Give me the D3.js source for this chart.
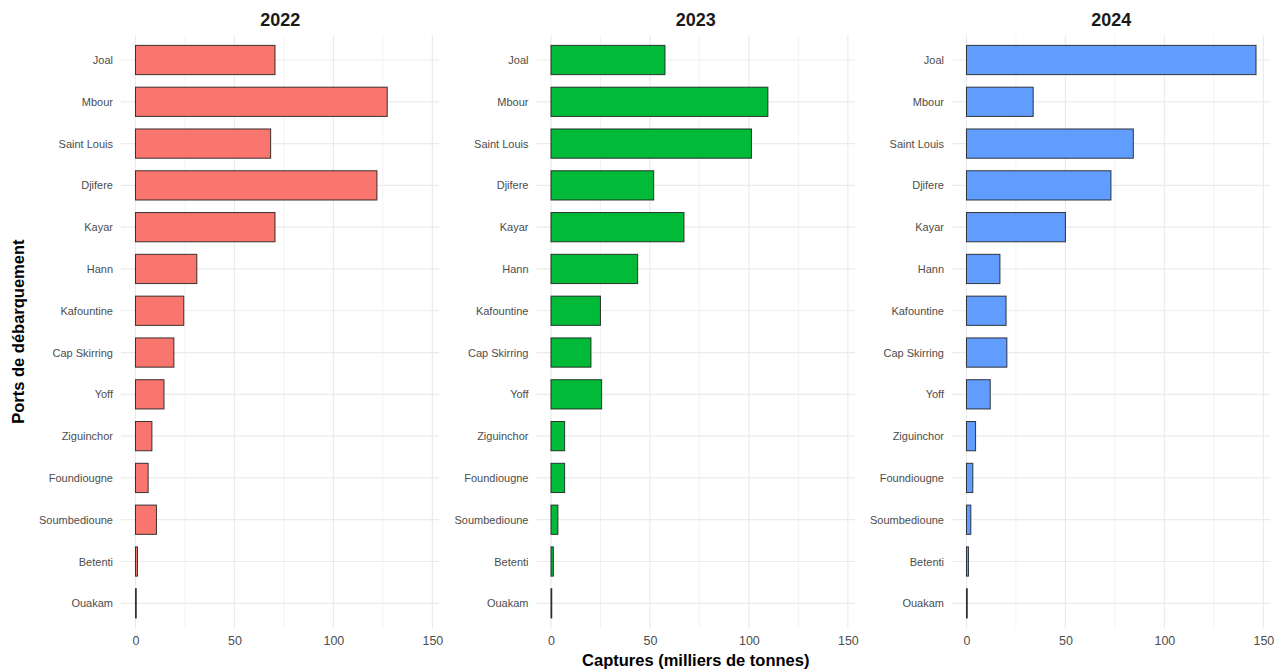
<!DOCTYPE html>
<html>
<head>
<meta charset="utf-8">
<script src="https://cdn.jsdelivr.net/npm/d3@7"></script>
<style>
  html, body { margin: 0; padding: 0; background: #ffffff; }
  svg { display: block; font-family: "Liberation Sans", Arial, sans-serif; }
</style>
</head>
<body>
<svg id="chart" width="1278" height="669"></svg>
<script>
const ports = ["Joal", "Mbour", "Saint Louis", "Djifere", "Kayar", "Hann", "Kafountine",
  "Cap Skirring", "Yoff", "Ziguinchor", "Foundiougne", "Soumbedioune", "Betenti", "Ouakam"];
const years = ["2022", "2023", "2024"];
const values2022 = [70.5, 127.2, 68.3, 122.0, 70.5, 31.0, 24.4, 19.4, 14.4, 8.3, 6.4, 10.6, 1.0, 0.4];
const values2023 = [57.6, 109.6, 101.3, 51.9, 67.2, 43.8, 25.0, 20.2, 25.6, 6.9, 6.9, 3.5, 1.2, 0.4];
const values2024 = [146.3, 33.7, 84.3, 73.0, 50.0, 16.9, 20.0, 20.4, 12.0, 4.6, 3.2, 2.2, 1.0, 0.4];
const xTicks = [0, 50, 100, 150];
const xMinorTicks = [25, 75, 125];
const colors = ["#F8766D", "#00BA38", "#619CFF"];
const seriesByYear = [values2022, values2023, values2024];

const svg = d3.select("#chart");
const panelLeft0 = 121, panelWidth = 318.5, panelGap = 415.5;
const catTop = 60, catBottom = 603.3;

const maxVal = d3.max(seriesByYear.flat());
const y = d3.scalePoint().domain(ports).range([catTop, catBottom]);
const step = y.step();
const panelTop = catTop - 0.6 * step, panelBottom = catBottom + 0.6 * step;
const barH = 0.7 * step;

years.forEach((yr, i) => {
  const left = panelLeft0 + i * panelGap;
  const x = d3.scaleLinear().domain([-0.05 * maxVal, 1.05 * maxVal]).range([left, left + panelWidth]);
  const g = svg.append("g");

  g.selectAll("line.minor").data(xMinorTicks).enter().append("line")
    .attr("x1", d => x(d)).attr("x2", d => x(d))
    .attr("y1", panelTop).attr("y2", panelBottom)
    .attr("stroke", "#f0f0f0").attr("stroke-width", 0.8);
  g.selectAll("line.majx").data(xTicks).enter().append("line")
    .attr("x1", d => x(d)).attr("x2", d => x(d))
    .attr("y1", panelTop).attr("y2", panelBottom)
    .attr("stroke", "#ebebeb").attr("stroke-width", 1.2);
  g.selectAll("line.majy").data(ports).enter().append("line")
    .attr("x1", left).attr("x2", left + panelWidth)
    .attr("y1", d => y(d)).attr("y2", d => y(d))
    .attr("stroke", "#ebebeb").attr("stroke-width", 1.2);

  const vals = seriesByYear[i];
  g.selectAll("rect.bar").data(ports).enter().append("rect")
    .attr("x", x(0))
    .attr("y", d => y(d) - barH / 2)
    .attr("width", (d, j) => Math.max(0, x(vals[j]) - x(0)))
    .attr("height", barH)
    .attr("fill", colors[i])
    .attr("stroke", "#1a1a1a").attr("stroke-opacity", 0.85).attr("stroke-width", 1);

  const yAxis = d3.axisLeft(y).tickSize(0).tickPadding(8);
  const ya = g.append("g").attr("transform", `translate(${left},0)`).call(yAxis);
  ya.select(".domain").remove();
  ya.selectAll("text").attr("fill", "#4d4d4d").style("font-size", "11px")
    .style("font-family", "'Liberation Sans', Arial, sans-serif");

  const xAxis = d3.axisBottom(x).tickValues(xTicks).tickSize(0).tickPadding(8);
  const xa = g.append("g").attr("transform", `translate(0,${panelBottom})`).call(xAxis);
  xa.select(".domain").remove();
  xa.selectAll("text").attr("fill", "#4d4d4d").style("font-size", "12.5px")
    .style("font-family", "'Liberation Sans', Arial, sans-serif");

  svg.append("text")
    .attr("x", left + panelWidth / 2).attr("y", 26)
    .attr("text-anchor", "middle")
    .attr("fill", "#1a1a1a")
    .style("font-size", "18px").style("font-weight", "bold")
    .text(yr);
});

svg.append("text")
  .attr("x", (panelLeft0 + panelLeft0 + 2 * panelGap + panelWidth) / 2)
  .attr("y", 666)
  .attr("text-anchor", "middle")
  .attr("fill", "#000")
  .style("font-size", "16.5px").style("font-weight", "bold")
  .text("Captures (milliers de tonnes)");

svg.append("text")
  .attr("transform", `translate(24,${(panelTop + panelBottom) / 2}) rotate(-90)`)
  .attr("text-anchor", "middle")
  .attr("fill", "#000")
  .style("font-size", "16.5px").style("font-weight", "bold")
  .text("Ports de débarquement");
</script>
</body>
</html>
